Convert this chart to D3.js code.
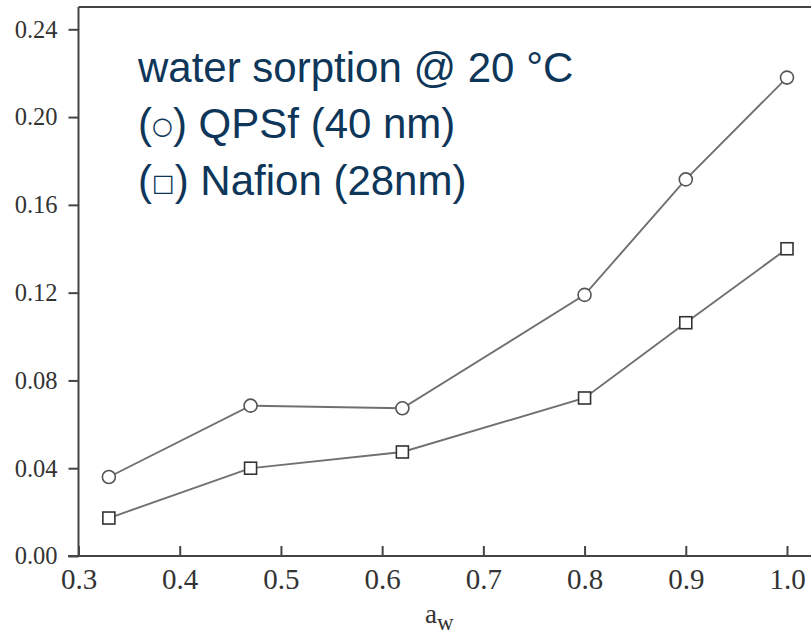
<!DOCTYPE html>
<html>
<head>
<meta charset="utf-8">
<script src="https://cdn.jsdelivr.net/npm/d3@7"></script>
<style>
  body { margin: 0; background: #fff; }
  .tick text { font-family: "Liberation Serif", "Times New Roman", serif; fill: #333; }
</style>
</head>
<body>
<div id="chart"></div>
<script>
// water activity values
var aw = [0.33, 0.47, 0.62, 0.80, 0.90, 1.00];
// water uptake, QPSf (circles)
var qpsf = [0.036, 0.0685, 0.0673, 0.119, 0.1716, 0.218];
// water uptake, Nafion (squares)
var nafion = [0.0173, 0.040, 0.0474, 0.072, 0.1063, 0.140];
var xTicks = [0.3, 0.4, 0.5, 0.6, 0.7, 0.8, 0.9, 1.0];
var yTicks = [0.00, 0.04, 0.08, 0.12, 0.16, 0.20, 0.24];
// legend lines: [prefix, symbol, rest]
var legendLines = [
  ["water sorption @ 20 \u00B0C", "", ""],
  ["(", "\u25CB", ") QPSf (40 nm)"],
  ["(", "\u25A1", ") Nafion (28nm)"]
];

var svgWidth = 811, svgHeight = 638;

var svg = d3.select("#chart")
  .append("svg")
  .attr("width", svgWidth)
  .attr("height", svgHeight);

var xScale = d3.scaleLinear().domain([0.3, 1.0]).range([78.5, 787]);
var yScale = d3.scaleLinear().domain([0, 0.24]).range([556, 29.3]);

var axisColor = "#444";

// frame: left, top, bottom
svg.append("line")
  .attr("x1", 78.5).attr("x2", 78.5)
  .attr("y1", 556).attr("y2", yScale(0.2502))
  .attr("stroke", axisColor).attr("stroke-width", 2);
svg.append("line")
  .attr("x1", 78.5).attr("x2", 830)
  .attr("y1", yScale(0.2502)).attr("y2", yScale(0.2502))
  .attr("stroke", axisColor).attr("stroke-width", 2);
svg.append("line")
  .attr("x1", 68).attr("x2", 830)
  .attr("y1", 556).attr("y2", 556)
  .attr("stroke", axisColor).attr("stroke-width", 2);

var leftAxis = d3.axisLeft(yScale)
  .tickValues(yTicks)
  .tickFormat(d3.format(".2f"))
  .tickSizeInner(10)
  .tickSizeOuter(0)
  .tickPadding(11);

var yAxisG = svg.append("g")
  .attr("transform", "translate(78.5,0)")
  .call(leftAxis);
yAxisG.select(".domain").remove();
yAxisG.selectAll(".tick line").attr("stroke", axisColor).attr("stroke-width", 2);
yAxisG.selectAll(".tick text").attr("font-size", "24.5px");

var bottomAxis = d3.axisBottom(xScale)
  .tickValues(xTicks)
  .tickFormat(d3.format(".1f"))
  .tickSizeInner(-10)
  .tickSizeOuter(0)
  .tickPadding(12);

var xAxisG = svg.append("g")
  .attr("transform", "translate(0,556)")
  .call(bottomAxis);
xAxisG.select(".domain").remove();
xAxisG.selectAll(".tick line").attr("stroke", axisColor).attr("stroke-width", 2);
xAxisG.selectAll(".tick text").attr("font-size", "29px");

// axis title a_w
var title = svg.append("text")
  .attr("x", 425)
  .attr("y", 623)
  .attr("font-family", "Liberation Serif, Times New Roman, serif")
  .attr("font-size", "27px")
  .attr("fill", "#333");
title.append("tspan").text("a");
title.append("tspan").attr("dy", 7).attr("font-size", "23px").text("w");

// lines
var line = d3.line()
  .x(function(d) { return xScale(d[0]); })
  .y(function(d) { return yScale(d[1]); });

var qData = aw.map(function(x, i) { return [x, qpsf[i]]; });
var nData = aw.map(function(x, i) { return [x, nafion[i]]; });

[qData, nData].forEach(function(data) {
  svg.append("path")
    .datum(data)
    .attr("d", line)
    .attr("fill", "none")
    .attr("stroke", "#707070")
    .attr("stroke-width", 1.9);
});

svg.selectAll(".qpt")
  .data(qData)
  .enter()
  .append("circle")
  .attr("class", "qpt")
  .attr("cx", d => xScale(d[0]))
  .attr("cy", d => yScale(d[1]))
  .attr("r", 6.5)
  .attr("fill", "#fff")
  .attr("stroke", "#555")
  .attr("stroke-width", 1.6);

svg.selectAll(".npt")
  .data(nData)
  .enter()
  .append("rect")
  .attr("class", "npt")
  .attr("x", d => xScale(d[0]) - 6)
  .attr("y", d => yScale(d[1]) - 6)
  .attr("width", 12)
  .attr("height", 12)
  .attr("fill", "#fff")
  .attr("stroke", "#333")
  .attr("stroke-width", 1.6);

// legend text
var legend = svg.selectAll(".legend")
  .data(legendLines)
  .enter()
  .append("text")
  .attr("class", "legend")
  .attr("x", 138)
  .attr("y", (d, i) => 81.7 + i * 56.7)
  .attr("font-family", "Liberation Sans, Arial, sans-serif")
  .attr("font-size", "42px")
  .attr("fill", "#0e3659");

legend.append("tspan").text(d => d[0]);
legend.append("tspan")
  .attr("font-size", "24px")
  .attr("font-family", "DejaVu Sans, sans-serif")
  .attr("dy", d => d[1] ? -4 : 0)
  .text(d => d[1]);
legend.append("tspan")
  .attr("dy", d => d[1] ? 4 : 0)
  .text(d => d[2]);
</script>
</body>
</html>
